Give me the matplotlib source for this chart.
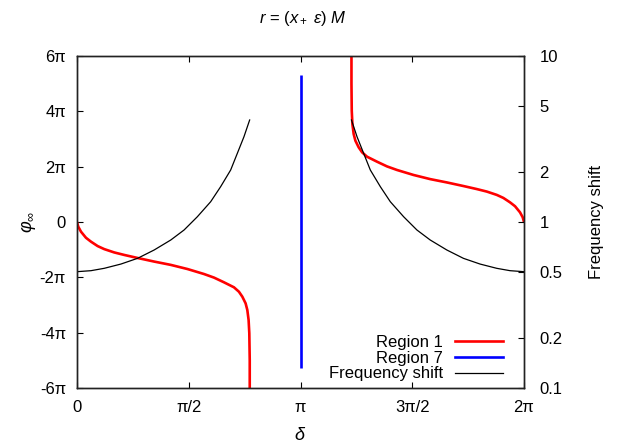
import numpy as np
import matplotlib
matplotlib.use("Agg")
import matplotlib.pyplot as plt
from matplotlib.lines import Line2D

plt.rcParams['font.family'] = ['Liberation Sans', 'DejaVu Sans']
plt.rcParams['mathtext.fontset'] = 'custom'
plt.rcParams['mathtext.rm'] = 'Liberation Sans'
plt.rcParams['mathtext.it'] = 'Liberation Sans:italic'
plt.rcParams['mathtext.bf'] = 'Liberation Sans:bold'

PI = np.pi

# Region 1 (red), left branch: delta [rad], phi [in units of pi]
r1a_delta = [0.0, 0.018, 0.056, 0.126, 0.196, 0.290, 0.383, 0.523, 0.663, 0.851, 1.084, 1.318,
             1.553, 1.785, 1.926, 2.066, 2.206, 2.276, 2.324, 2.370, 2.394, 2.412, 2.422, 2.428, 2.428]
r1a_phi = [0.0, -0.17, -0.35, -0.57, -0.71, -0.87, -0.98, -1.10, -1.19, -1.30, -1.43, -1.55,
           -1.70, -1.88, -2.01, -2.18, -2.36, -2.52, -2.70, -2.94, -3.18, -3.54, -4.02, -5.0, -6.3]

# Region 1 (red), right branch
r1b_delta = [3.858, 3.858, 3.862, 3.871, 3.889, 3.913, 3.959, 4.007, 4.077, 4.217, 4.357, 4.498,
             4.730, 4.965, 5.199, 5.432, 5.620, 5.760, 5.900, 5.993, 6.087, 6.157, 6.227, 6.265, 6.283]
r1b_phi = [6.3, 5.0, 4.02, 3.54, 3.18, 2.94, 2.70, 2.52, 2.36, 2.18, 2.01, 1.88,
           1.70, 1.55, 1.43, 1.30, 1.19, 1.10, 0.98, 0.87, 0.71, 0.57, 0.35, 0.17, 0.0]

# Region 7 (blue): vertical segment at delta = pi
r7_delta = [PI, PI]
r7_phi = [-5.28, 5.31]

# Frequency shift (black, right log axis), left branch
fs_a_delta = [0.0, 0.196, 0.383, 0.617, 0.851, 1.084, 1.318, 1.505, 1.692, 1.879, 2.019, 2.160, 2.254, 2.347, 2.427]
fs_a_val = [0.502, 0.509, 0.526, 0.558, 0.604, 0.678, 0.779, 0.895, 1.076, 1.325, 1.632, 2.057, 2.594, 3.265, 4.117]
# right branch
fs_b_delta = [3.858, 3.936, 4.029, 4.123, 4.264, 4.404, 4.591, 4.778, 4.965, 5.199, 5.432, 5.666, 5.900, 6.087, 6.283]
fs_b_val = [4.117, 3.265, 2.594, 2.057, 1.632, 1.325, 1.076, 0.895, 0.779, 0.678, 0.604, 0.558, 0.526, 0.509, 0.502]

x_ticks = [0, PI / 2, PI, 3 * PI / 2, 2 * PI]
x_ticklabels = ['0', 'π/2', 'π', '3π/2', '2π']
y_ticks = [-6, -4, -2, 0, 2, 4, 6]
y_ticklabels = ['-6π', '-4π', '-2π', '0', '2π', '4π', '6π']
y2_ticks = [0.1, 0.2, 0.5, 1, 2, 5, 10]
y2_ticklabels = ['0.1', '0.2', '0.5', '1', '2', '5', '10']

fig = plt.figure(figsize=(6.38, 4.47), dpi=100)
ax = fig.add_axes([77 / 638, 1 - 388 / 447, (524 - 77) / 638, (388 - 56) / 447])
ax2 = ax.twinx()

red = '#ff0000'
blue = '#0000ff'

ax2.plot(fs_a_delta, fs_a_val, color='black', lw=0.9, zorder=1)
ax2.plot(fs_b_delta, fs_b_val, color='black', lw=0.9, zorder=1)

ax.plot(r1a_delta, r1a_phi, color=red, lw=1.9, solid_capstyle='butt', solid_joinstyle='round')
ax.plot(r1b_delta, r1b_phi, color=red, lw=1.9, solid_capstyle='butt', solid_joinstyle='round')
ax.plot(r7_delta, r7_phi, color=blue, lw=1.9, solid_capstyle='butt')

ax.set_xlim(0, 2 * PI)
ax.set_ylim(-6, 6)
ax2.set_yscale('log')
ax2.set_ylim(0.1, 10)

fs = 12
ax.set_xticks(x_ticks)
ax.set_xticklabels(x_ticklabels, fontsize=fs)
ax.set_yticks(y_ticks)
ax.set_yticklabels(y_ticklabels, fontsize=fs)
ax2.set_yticks(y2_ticks)
ax2.set_yticklabels(y2_ticklabels, fontsize=fs)
ax2.minorticks_off()
ax.minorticks_off()

ax.tick_params(axis='x', direction='in', length=4, width=0.8, top=True, bottom=True, pad=9)
ax.tick_params(axis='y', direction='in', length=4, width=0.8, left=True, right=False, pad=8)
ax2.tick_params(axis='y', direction='in', length=4, width=0.8, left=False, right=True, pad=11)

for a in (ax, ax2):
    for s in a.spines.values():
        s.set_linewidth(1.0)
        s.set_color('#222222')

fig.text(303 / 638, 1 - 18 / 447, r'$r$ = ($x_+$ $\varepsilon$) $M$', ha='center', va='center', fontsize=fs)
fig.text(300 / 638, 1 - 435 / 447, r'$\delta$', ha='center', va='center', fontsize=fs + 1)
fig.text(28 / 638, 1 - 222 / 447, r'$\varphi_\infty$', ha='center', va='center', fontsize=fs + 1, rotation=90)
fig.text(597 / 638, 1 - 222 / 447, 'Frequency shift', ha='center', va='center', fontsize=fs, rotation=90)

handles = [Line2D([], [], color=red, lw=1.9),
           Line2D([], [], color=blue, lw=1.9),
           Line2D([], [], color='black', lw=0.9)]
leg = ax2.legend(handles, ['Region 1', 'Region 7', 'Frequency shift'], loc='lower right',
                 frameon=False, markerfirst=False, fontsize=fs, handlelength=2.88,
                 handletextpad=0.72, labelspacing=0.05, borderaxespad=0.0,
                 bbox_to_anchor=(0.968, 0.0))

fig.savefig('out.png', dpi=100)
